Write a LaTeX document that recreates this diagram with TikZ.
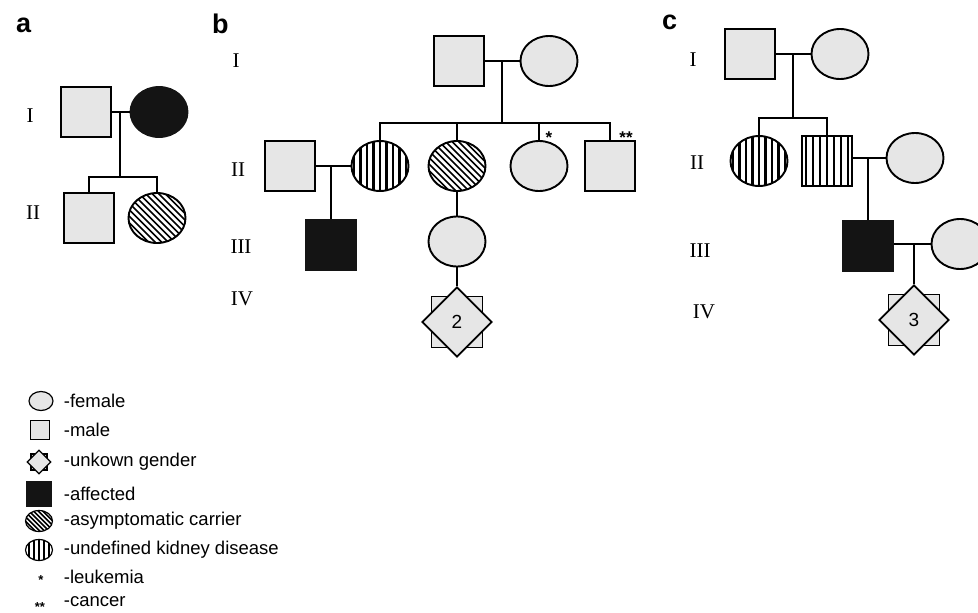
\documentclass[tikz,border=0pt]{standalone}
\usepackage{fontspec}
\setmainfont{Liberation Serif}
\setsansfont{Liberation Sans}
\usetikzlibrary{shapes.geometric,positioning}
\definecolor{shade}{RGB}{230,230,230}
\definecolor{ink}{RGB}{20,20,20}

\begin{document}
\begin{tikzpicture}[x=1pt,y=-1pt,line width=1.7pt,
    male/.style={rectangle,draw,fill=shade,minimum size=50pt,inner sep=0pt,line width=1.9pt},
    female/.style={ellipse,draw,fill=shade,minimum width=57pt,minimum height=50pt,inner sep=0pt,line width=1.9pt},
    affected/.style={fill=ink,draw=ink},
    vstripes/.style={fill=white,path picture={
        \foreach \k in {-8,...,8}
          \draw[line width=2.3pt] ([xshift=\k*#1pt]path picture bounding box.center) ++(0pt,40pt) -- ++(0pt,-80pt);}},
    hatch/.style={fill=white,path picture={
        \foreach \k in {-16,...,16}
          \draw[line width=1.6pt] ([xshift=\k*#1pt]path picture bounding box.center) ++(-40pt,40pt) -- ++(80pt,-80pt);}},
    unknown/.style={diamond,draw,fill=shade,minimum width=70pt,minimum height=70pt,inner sep=0pt,
        line width=1.9pt,font=\sffamily\fontsize{19}{19}\selectfont},
    gen/.style={font=\fontsize{21}{21}\selectfont},
    panel/.style={font=\sffamily\bfseries\fontsize{27}{27}\selectfont,anchor=base west},
    starnote/.style={font=\sffamily\bfseries\fontsize{17}{17}\selectfont},
    legtext/.style={anchor=west,font=\sffamily\fontsize{18.5}{18.5}\selectfont,inner sep=0pt}]
  \useasboundingbox (0,0) rectangle (978,613);

  % panel a
  \node[panel] at (12,32) {a};
  \node[gen] at (30,116) {I};
  \node[gen] at (33,213) {II};
  \node[male] (aI1) at (86,112) {};
  \node[female,affected] (aI2) at (159,112) {};
  \node[male] (aII1) at (89,218) {};
  \node[female,hatch=6.5] (aII2) at (157,218) {};
  \coordinate (aM) at (120,112);
  \coordinate (aS) at (120,177);
  \draw (aI1) -- (aI2);
  \draw (aM) -- (aS);
  \draw (aII1.north) |- (aS) -| (aII2.north);

  % panel b
  \node[panel] at (208,33) {b};
  \node[gen] at (236,61) {I};
  \node[gen] at (238,170) {II};
  \node[gen] at (241,247) {III};
  \node[gen] at (242,299) {IV};
  \node[male] (bI1) at (459,61) {};
  \node[female] (bI2) at (549,61) {};
  \node[male] (bII1) at (290,166) {};
  \node[female,vstripes=6.5] (bII2) at (380,166) {};
  \node[female,hatch=6.5] (bII3) at (457,166) {};
  \node[female] (bII4) at (539,166) {};
  \node[male] (bII5) at (610,166) {};
  \node[starnote] at (549,138) {*};
  \node[starnote] at (626,138) {**};
  \node[male,affected] (bIII1) at (331,245) {};
  \node[female] (bIII2) at (457,241.5) {};
  \node[male,minimum size=51pt] (bIVsq) at (457,322) {};
  \node[unknown] (bIV) at (457,322) {2};
  \coordinate (bM) at (502,61);
  \coordinate (bS) at (502,123);
  \coordinate (bM2) at (331,166);
  \draw (bI1) -- (bI2);
  \draw (bM) -- (bS);
  \draw (bII2.north) |- (bS) -| (bII5.north);
  \draw (bII3.north) -- (bII3.north |- bS);
  \draw (bII4.north) -- (bII4.north |- bS);
  \draw (bII1) -- (bII2);
  \draw (bM2) -- (bIII1.north);
  \draw (bII3) -- (bIII2);
  \draw (bIII2) -- (bIV);

  % panel c
  \node[panel] at (658,29) {c};
  \node[gen] at (693,60) {I};
  \node[gen] at (697,163) {II};
  \node[gen] at (700,251) {III};
  \node[gen] at (704,312) {IV};
  \node[male] (cI1) at (750,54) {};
  \node[female] (cI2) at (840,54) {};
  \node[female,vstripes=6.5] (cII1) at (759,161) {};
  \node[male,vstripes=7.1] (cII2) at (827,161) {};
  \node[female] (cII3) at (915,158) {};
  \node[male,affected] (cIII1) at (868,246) {};
  \node[female] (cIII2) at (960,244) {};
  \node[male,minimum size=51pt] (cIVsq) at (914,320) {};
  \node[unknown] (cIV) at (914,320) {3};
  \coordinate (cM) at (793,54);
  \coordinate (cS) at (793,118);
  \coordinate (cM2) at (868,158);
  \coordinate (cM3) at (914,244);
  \draw (cI1) -- (cI2);
  \draw (cM) -- (cS);
  \draw (cII1.north) |- (cS) -| (cII2.north);
  \draw (cII2.east |- cII3.west) -- (cII3.west);
  \draw (cM2) -- (cIII1.north);
  \draw (cIII1.east |- cIII2.west) -- (cIII2.west);
  \draw (cM3) -- (cIV.north);

  % legend
  \node[female,minimum width=24pt,minimum height=19pt,line width=1.2pt] (lgF) at (41,401) {};
  \node[male,minimum size=19pt,line width=1.2pt] (lgM) at (40,430) {};
  \node[male,minimum size=16pt,line width=1.2pt] (lgUsq) at (39,462) {};
  \node[unknown,minimum width=24pt,minimum height=24pt,line width=1.2pt] (lgU) at (39,462) {};
  \node[male,affected,minimum size=25pt,line width=0.5pt] (lgA) at (39,494) {};
  \node[female,hatch=4.6,minimum width=27pt,minimum height=21pt,line width=1.2pt] (lgC) at (39,521) {};
  \node[female,vstripes=5,minimum width=27pt,minimum height=21pt,line width=1.2pt] (lgK) at (39,550) {};
  \node[starnote,font=\sffamily\bfseries\fontsize{13}{13}\selectfont] (lgL) at (41,580) {*};
  \node[starnote,font=\sffamily\bfseries\fontsize{13}{13}\selectfont] (lgCa) at (40,607) {**};
  \node[legtext] at (63,401) {-female};
  \node[legtext] at (63,430) {-male};
  \node[legtext] at (63,462) {-unkown gender};
  \node[legtext] at (63,494) {-affected};
  \node[legtext] at (63,521) {-asymptomatic carrier};
  \node[legtext] at (63,550) {-undefined kidney disease};
  \node[legtext] at (63,577) {-leukemia};
  \node[legtext] at (63,602) {-cancer};
\end{tikzpicture}
\end{document}
